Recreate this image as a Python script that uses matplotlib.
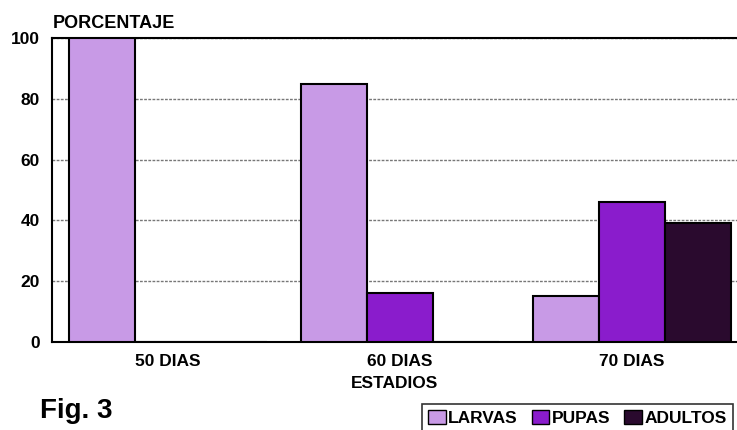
import matplotlib
matplotlib.use("Agg")
from matplotlib import pyplot as plt
from matplotlib.patches import Patch
import numpy as np

plt.rcParams['font.family'] = ['Liberation Sans', 'DejaVu Sans']
plt.rcParams['font.weight'] = 'bold'

estadios = ['50 DIAS', '60 DIAS', '70 DIAS']
larvas = [100, 85, 15]
pupas = [0, 16, 46]
adultos = [0, 0, 39]
series = ['LARVAS', 'PUPAS', 'ADULTOS']
colores = ['#c89ae6', '#8a1ccc', '#2a0a2e']
yticks = [0, 20, 40, 60, 80, 100]

fig = plt.figure(figsize=(7.37, 4.30), dpi=100)
ax = fig.add_axes([0.0706, 0.2047, 0.9294, 0.7069])

x = np.arange(len(estadios))
w = 0.284
for i, (vals, c) in enumerate(zip([larvas, pupas, adultos], colores)):
    ax.bar(x + (i - 1) * w, vals, w, color=c, edgecolor='black', linewidth=1.5, zorder=3)

ax.set_xlim(-0.5, 2.453)
ax.set_ylim(0, 100)
ax.set_yticks(yticks)
ax.set_yticklabels([str(v) for v in yticks], fontsize=12.5, fontweight='bold')
ax.set_xticks(x)
ax.set_xticklabels(estadios, fontsize=12.5, fontweight='bold')
ax.tick_params(axis='y', length=0, pad=9)
ax.tick_params(axis='x', length=0, pad=9)
ax.yaxis.grid(True, linestyle=(0, (2, 1)), color='#777777', linewidth=1, zorder=0)
for s in ['left', 'bottom', 'top']:
    ax.spines[s].set_linewidth(1.5)
ax.spines['right'].set_visible(False)

ax.set_xlabel('ESTADIOS', fontsize=12.5, fontweight='bold', labelpad=5)
fig.text(0.071, 0.925, 'PORCENTAJE', fontsize=13, fontweight='bold', ha='left', va='bottom')
fig.text(0.054, 0.015, 'Fig. 3', fontsize=20, fontweight='bold', ha='left', va='bottom')

handles = [Patch(facecolor=c, edgecolor='black', label=s) for s, c in zip(series, colores)]
leg = fig.legend(handles=handles, loc='lower left', bbox_to_anchor=(0.573, -0.005), ncol=3,
                 prop={'size': 12.5, 'weight': 'bold'}, frameon=True, fancybox=False,
                 edgecolor='black', handlelength=1.0, handleheight=0.8, handletextpad=0.15,
                 columnspacing=0.8, borderpad=0.35, borderaxespad=0)
leg.get_frame().set_linewidth(1.2)

fig.savefig('out.png', dpi=100)
